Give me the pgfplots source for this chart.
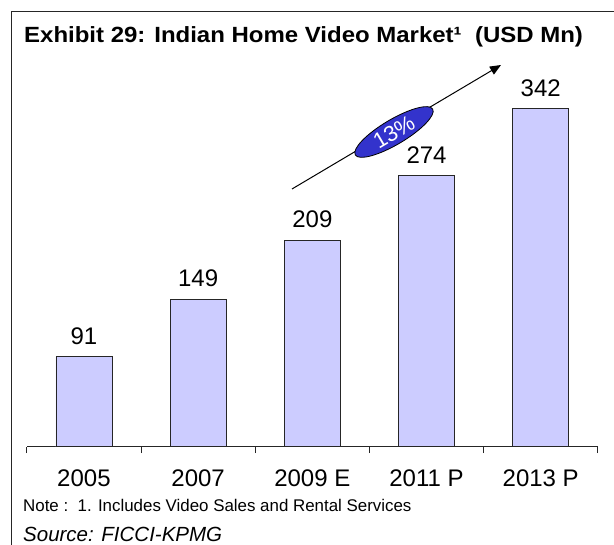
\documentclass[border=0pt]{standalone}
\usepackage{fontspec}
\setmainfont{Liberation Sans}
\usepackage{pgfplots}
\pgfplotsset{compat=1.18}
\usetikzlibrary{arrows.meta}
\definecolor{barfill}{HTML}{CCCCFF}
\definecolor{ellfill}{HTML}{3333CC}
\begin{document}
\begin{tikzpicture}[x=1pt,y=1pt]
\path[use as bounding box] (0,0) rectangle (614,545);
\draw[line width=1.2pt, black!85] (11.7,0) -- (11.7,533.3) -- (614,533.3);
\node[anchor=base west, inner sep=0, font=\fontsize{22}{24}\selectfont\bfseries] at (24,502.3) {\scalebox{1.09}[1]{Exhibit 29: Indian Home Video Market¹\ \ (USD Mn)}};
\begin{axis}[
  at={(23.5,99.3)}, anchor=south west, scale only axis,
  width=571pt, height=395.6pt,
  xmin=-0.5, xmax=4.5, ymin=0, ymax=400,
  axis x line*=bottom, axis y line=none,
  x axis line style={line width=0.8pt, black!85},
  xtick={0,...,4}, xticklabels={2005,2007,2009 E,2011 P,2013 P},
  major tick length=0pt,
  minor xtick={-0.5,0.5,...,4.5}, minor tick length=6.3pt, tick align=outside,
  minor tick style={line width=0.8pt, black!85},
  xticklabel style={font=\fontsize{24}{26}\selectfont, anchor=base, yshift=-39.3pt, inner sep=0pt},
  ybar, bar width=0.49,
  clip=false,
  /pgf/number format/assume math mode=true,
  nodes near coords,
  nodes near coords style={font=\fontsize{24}{26}\selectfont, anchor=base, yshift=12.5pt, inner sep=0pt},
]
\addplot[fill=barfill, draw=black!85, line width=0.8pt] coordinates {(0,91) (1,149) (2,209) (3,274) (4,342)};
\end{axis}
\draw[-{Triangle[length=11pt,width=9pt]}, line width=1pt] (292,356) -- (501,480);
\draw[fill=ellfill, line width=0.8pt, rotate around={30.7:(394,413)}] (394,413) ellipse [x radius=45, y radius=12.5];
\node[rotate=30.7, text=white, inner sep=0pt, font=\fontsize{22}{23}\selectfont] at (394,413) {13\%};
\node[anchor=base west, inner sep=0, font=\fontsize{16.9}{18}\selectfont] at (23,33.5) {Note :\ \ 1. Includes Video Sales and Rental Services};
\node[anchor=base west, inner sep=0, font=\fontsize{20.5}{22}\selectfont\itshape] at (23,3) {Source: FICCI-KPMG};
\end{tikzpicture}
\end{document}
